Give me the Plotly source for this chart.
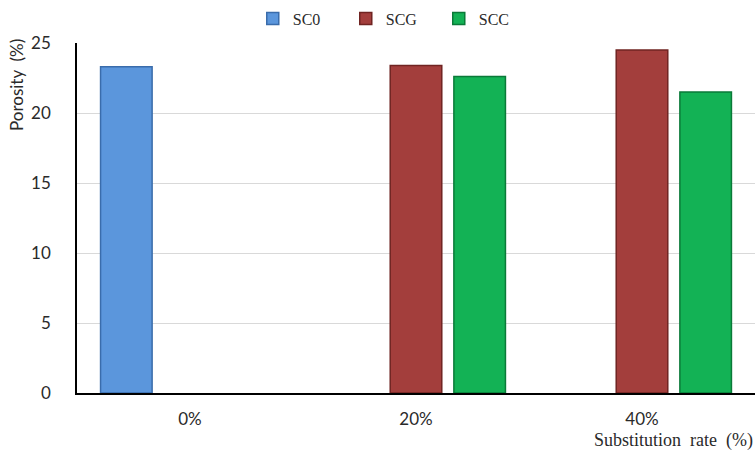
import plotly.graph_objects as go

# Porosity of concrete mixes by substitution rate
categories = ["0%", "20%", "40%"]
sc0 = [23.3, None, None]
scg = [None, 23.4, 24.5]
scc = [None, 22.6, 21.5]

series = [
    ("SC0", sc0, "#5b96dc", "#3a6cab"),
    ("SCG", scg, "#a33e3c", "#702422"),
    ("SCC", scc, "#13b255", "#0a7a38"),
]

fig = go.Figure()
for name, vals, fill, edge in series:
    fig.add_trace(go.Bar(
        name=name, x=categories, y=vals,
        marker=dict(color=fill, line=dict(color=edge, width=1.5)),
    ))

serif = "Liberation Serif, DejaVu Serif, serif"
sans = "Lato, Open Sans, Liberation Sans, sans-serif"

fig.update_layout(
    width=756, height=451,
    margin=dict(l=77, r=1, t=43, b=58),
    paper_bgcolor="white", plot_bgcolor="white",
    barmode="group", bargap=0.155, bargroupgap=0.19,
    font=dict(family=sans, size=17, color="#2a2a2a"),
    legend=dict(
        orientation="h", x=0.465, xanchor="center", y=1.07, yanchor="middle",
        font=dict(family=serif, size=16, color="#2a2a2a"),
        itemwidth=30, entrywidth=48, traceorder="normal",
    ),
    showlegend=True,
)
fig.update_xaxes(
    showline=True, linecolor="black", linewidth=1.5,
    ticks="", tickfont=dict(family=sans, size=17), ticklabelstandoff=10,
)
fig.update_yaxes(
    range=[0, 25], dtick=5, showgrid=True, gridcolor="#d9d9d9", gridwidth=1,
    showline=True, linecolor="black", linewidth=1.5, zeroline=False,
    ticks="", tickfont=dict(family=sans, size=17), ticklabelstandoff=21,
)
fig.add_annotation(
    text="Porosity  (%)", xref="paper", yref="paper",
    x=-0.09, y=0.88, xanchor="center", yanchor="middle", textangle=-90,
    showarrow=False, font=dict(family=sans, size=17, color="#2a2a2a"),
)
fig.add_annotation(
    text="Substitution  rate  (%)", xref="paper", yref="paper",
    x=1.0, y=-0.135, xanchor="right", yanchor="middle", showarrow=False,
    font=dict(family=serif, size=18, color="#2a2a2a"),
)

fig.write_html("out.html")
